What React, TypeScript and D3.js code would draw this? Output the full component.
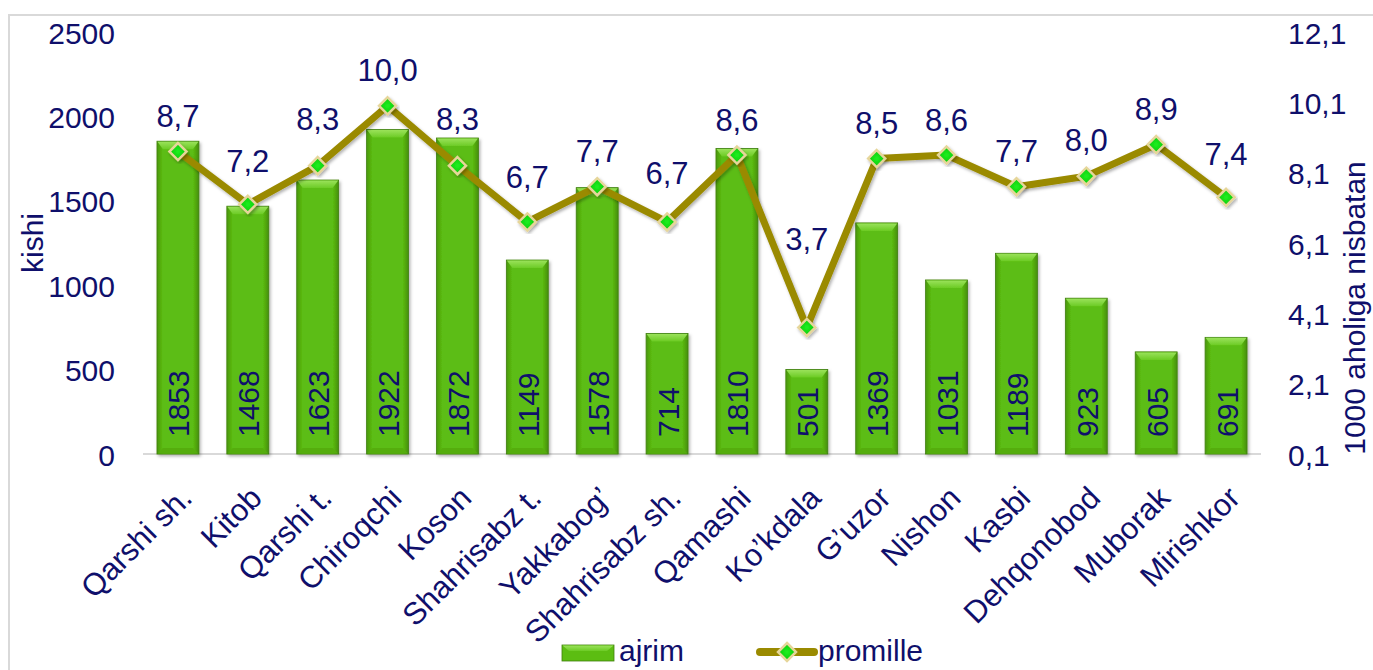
import React, { useEffect, useRef } from 'react';
import * as d3 from 'd3';

const categories = [
	'Qarshi sh.',
	'Kitob',
	'Qarshi t.',
	'Chiroqchi',
	'Koson',
	'Shahrisabz t.',
	'Yakkabog’',
	'Shahrisabz sh.',
	'Qamashi',
	'Ko’kdala',
	'G’uzor',
	'Nishon',
	'Kasbi',
	'Dehqonobod',
	'Muborak',
	'Mirishkor',
];
const ajrim = [1853, 1468, 1623, 1922, 1872, 1149, 1578, 714, 1810, 501, 1369, 1031, 1189, 923, 605, 691];
const promille = [8.7, 7.2, 8.3, 10.0, 8.3, 6.7, 7.7, 6.7, 8.6, 3.7, 8.5, 8.6, 7.7, 8.0, 8.9, 7.4];
const leftTicks = [0, 500, 1000, 1500, 2000, 2500];
const rightTicks = [0.1, 2.1, 4.1, 6.1, 8.1, 10.1, 12.1];

const W = 1373;
const H = 670;
const NAVY = '#0f0f6b';
const OLIVE = '#9a8a00';
const FONT = 'Arial, "Liberation Sans", sans-serif';

const comma = (v: number) => v.toFixed(1).replace('.', ',');

const App: React.FC = () => {
	const svgRef = useRef<SVGSVGElement | null>(null);

	useEffect(() => {
		if (!svgRef.current) return;
		const svg = d3.select(svgRef.current);
		svg.selectAll('*').remove();

		const x = d3.scaleBand<string>().domain(categories).range([143, 1261]).paddingInner(0.4).paddingOuter(0.2);
		const yL = d3.scaleLinear().domain([0, 2500]).range([454, 32]);
		const yR = d3.scaleLinear().domain([0.1, 12.1]).range([454, 32]);
		const cx = (c: string) => (x(c) as number) + x.bandwidth() / 2;
		const bw = x.bandwidth();

		const defs = svg.append('defs');
		const side = defs.append('linearGradient').attr('id', 'barSide').attr('x1', 0).attr('x2', 1).attr('y1', 0).attr('y2', 0);
		side.append('stop').attr('offset', 0).attr('stop-color', '#4a980e');
		side.append('stop').attr('offset', 0.14).attr('stop-color', '#5cbd12');
		side.append('stop').attr('offset', 0.86).attr('stop-color', '#5cbd12');
		side.append('stop').attr('offset', 1).attr('stop-color', '#468f0d');
		const top = defs.append('linearGradient').attr('id', 'barTop').attr('x1', 0).attr('x2', 0).attr('y1', 0).attr('y2', 1);
		top.append('stop').attr('offset', 0).attr('stop-color', '#9ae25a');
		top.append('stop').attr('offset', 1).attr('stop-color', '#6ccb25');
		const mk = defs.append('radialGradient').attr('id', 'mk');
		mk.append('stop').attr('offset', 0).attr('stop-color', '#20f020');
		mk.append('stop').attr('offset', 1).attr('stop-color', '#08c808');
		const sh = defs.append('filter').attr('id', 'shadow').attr('x', '-20%').attr('y', '-20%').attr('width', '140%').attr('height', '140%');
		sh.append('feDropShadow').attr('dx', 1.5).attr('dy', 2).attr('stdDeviation', 1.5).attr('flood-color', '#000').attr('flood-opacity', 0.3);

		// frame
		svg.append('rect').attr('x', 9).attr('y', 15).attr('width', W + 20).attr('height', H + 20)
			.attr('fill', 'none').attr('stroke', '#d9d9d9').attr('stroke-width', 2);

		// baseline
		svg.append('line').attr('x1', 143).attr('x2', 1261).attr('y1', yL(0)).attr('y2', yL(0))
			.attr('stroke', '#d9d9d9').attr('stroke-width', 2);

		// bars
		const bars = svg.append('g').selectAll('g').data(categories).join('g')
			.attr('transform', (c) => `translate(${x(c)},0)`)
			.attr('filter', 'url(#shadow)');
		bars.append('rect')
			.attr('y', (_c, i) => yL(ajrim[i]))
			.attr('width', bw)
			.attr('height', (_c, i) => yL(0) - yL(ajrim[i]))
			.attr('fill', 'url(#barSide)')
			.attr('stroke', '#3f7f0c')
			.attr('stroke-width', 0.8);
		bars.append('path')
			.attr('d', (_c, i) => {
				const t = yL(ajrim[i]);
				return `M0.5,${t + 0.5}L${bw - 0.5},${t + 0.5}L${bw - 6},${t + 8}L6,${t + 8}Z`;
			})
			.attr('fill', 'url(#barTop)');
		bars.append('path')
			.attr('d', () => {
				const b = yL(0);
				return `M0.5,${b - 0.5}L${bw - 0.5},${b - 0.5}L${bw - 6},${b - 6}L6,${b - 6}Z`;
			})
			.attr('fill', '#55ad10');

		// bar value labels
		svg.append('g').selectAll('text').data(categories).join('text')
			.attr('transform', (c) => `translate(${cx(c) + 1},${yL(0) - 17}) rotate(-90)`)
			.attr('dominant-baseline', 'central')
			.attr('font-family', FONT).attr('font-size', 30).attr('fill', NAVY)
			.text((_c, i) => ajrim[i]);

		// line
		const line = d3.line<number>().x((_v, i) => cx(categories[i])).y((v) => yR(v));
		svg.append('path').datum(promille).attr('d', line)
			.attr('fill', 'none').attr('stroke', OLIVE).attr('stroke-width', 7)
			.attr('stroke-linejoin', 'round').attr('filter', 'url(#shadow)');

		const diamond = (g: d3.Selection<SVGGElement, unknown, null, undefined>, s: number) => {
			g.append('path').attr('d', `M0,${-s}L${s},0L0,${s}L${-s},0Z`)
				.attr('fill', 'url(#mk)').attr('stroke', '#e6d69a').attr('stroke-width', 2.5);
		};
		promille.forEach((v, i) => {
			const g = svg.append('g').attr('transform', `translate(${cx(categories[i])},${yR(v)})`).attr('filter', 'url(#shadow)');
			diamond(g as any, 8.5);
		});

		// line value labels: sit above the marker, pushed up clear of neighbouring segments
		const halfW = 26;
		const halfH = 11;
		const labelY = promille.map((v, i) => {
			const px = cx(categories[i]);
			const py = yR(v);
			let c = py - 35;
			[i - 1, i + 1].forEach((j) => {
				if (j < 0 || j >= promille.length) return;
				const qx = cx(categories[j]);
				const qy = yR(promille[j]);
				const t = halfW / Math.abs(qx - px);
				const ly = py + (qy - py) * t;
				if (ly < py) c = Math.min(c, ly - 3.5 - 9 - halfH);
			});
			return c;
		});
		svg.append('g').selectAll('text').data(promille).join('text')
			.attr('x', (_v, i) => cx(categories[i]))
			.attr('y', (_v, i) => labelY[i])
			.attr('text-anchor', 'middle').attr('dominant-baseline', 'central')
			.attr('font-family', FONT).attr('font-size', 31).attr('fill', NAVY)
			.text((v) => comma(v));

		// left axis
		svg.append('g').selectAll('text').data(leftTicks).join('text')
			.attr('x', 115).attr('y', (d) => yL(d) + 1)
			.attr('text-anchor', 'end').attr('dominant-baseline', 'central')
			.attr('font-family', FONT).attr('font-size', 30).attr('fill', NAVY)
			.text((d) => d);
		svg.append('text')
			.attr('transform', `translate(43,243) rotate(-90)`)
			.attr('text-anchor', 'middle')
			.attr('font-family', FONT).attr('font-size', 30).attr('fill', NAVY)
			.text('kishi');

		// right axis
		svg.append('g').selectAll('text').data(rightTicks).join('text')
			.attr('x', 1288).attr('y', (d) => yR(d) + 1)
			.attr('text-anchor', 'start').attr('dominant-baseline', 'central')
			.attr('font-family', FONT).attr('font-size', 30).attr('fill', NAVY)
			.text((d) => comma(d));
		svg.append('text')
			.attr('transform', `translate(1365,308) rotate(-90)`)
			.attr('text-anchor', 'middle')
			.attr('font-family', FONT).attr('font-size', 30).attr('fill', NAVY)
			.text('1000 aholiga nisbatan');

		// category labels
		svg.append('g').selectAll('text').data(categories).join('text')
			.attr('transform', (c) => `translate(${cx(c)},484) rotate(-45)`)
			.attr('text-anchor', 'end').attr('dy', '0.72em')
			.attr('font-family', FONT).attr('font-size', 31).attr('fill', NAVY)
			.text((c) => c);

		// legend
		const lg = svg.append('g');
		lg.append('rect').attr('x', 562).attr('y', 645).attr('width', 52).attr('height', 16)
			.attr('fill', '#5cbd12').attr('stroke', '#3f7f0c').attr('stroke-width', 0.8);
		lg.append('path').attr('d', 'M562.5,645.5L613.5,645.5L607,651L569,651Z').attr('fill', 'url(#barTop)');
		lg.append('text').attr('x', 619).attr('y', 661)
			.attr('font-family', FONT).attr('font-size', 30).attr('fill', NAVY).text('ajrim');
		lg.append('line').attr('x1', 760).attr('x2', 814).attr('y1', 652).attr('y2', 652)
			.attr('stroke', OLIVE).attr('stroke-width', 8).attr('stroke-linecap', 'round');
		const lm = lg.append('g').attr('transform', 'translate(787,652)');
		diamond(lm as any, 9);
		lg.append('text').attr('x', 818).attr('y', 661)
			.attr('font-family', FONT).attr('font-size', 30).attr('fill', NAVY).text('promille');
	}, []);

	return (
		<svg
			ref={svgRef}
			width={W}
			height={H}
			style={{ position: 'absolute', left: 0, top: 0, background: '#fff' }}
		></svg>
	);
};

export default App;
